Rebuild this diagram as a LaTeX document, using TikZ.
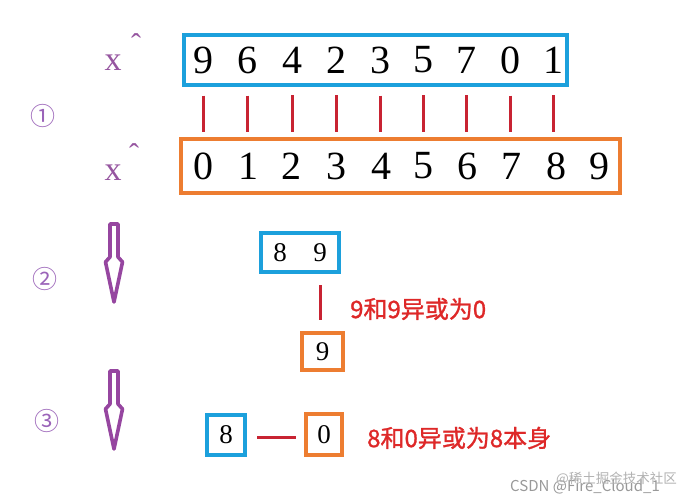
\documentclass[tikz,border=0pt]{standalone}
\usepackage{fontspec}
\newfontfamily\cjk{Noto Sans CJK SC}
\newfontfamily\cjkb[FakeBold=1.2]{Noto Sans CJK SC}
\newfontfamily\tms{Liberation Serif}
\usetikzlibrary{calc}
\definecolor{boxblue}{RGB}{28,160,220}
\definecolor{boxorange}{RGB}{237,125,49}
\definecolor{linered}{RGB}{200,35,50}
\definecolor{textred}{RGB}{222,40,40}
\definecolor{xpurple}{RGB}{150,85,160}
\definecolor{circpurple}{RGB}{155,100,185}
\definecolor{arrowpurple}{RGB}{150,70,160}
\tikzset{
  bigdigit/.style={inner sep=0pt, font=\tms\fontsize{40}{40}\selectfont},
  middigit/.style={inner sep=0pt, font=\tms\fontsize{27}{27}\selectfont},
  bluebox/.style={draw=boxblue, line width=4pt, inner sep=0pt},
  orangebox/.style={draw=boxorange, line width=4pt, inner sep=0pt},
  redline/.style={draw=linered, line width=3pt},
  xlabel/.style={inner sep=0pt, text=xpurple, font=\tms\fontsize{34}{34}\selectfont},
  caretlabel/.style={inner sep=0pt, text=xpurple, font=\tms\fontsize{30}{30}\selectfont},
  circnum/.style={inner sep=0pt, text=circpurple, font=\cjk\fontsize{25}{25}\selectfont},
  redtext/.style={inner sep=0pt, anchor=west, text=textred, font=\cjkb\fontsize{24}{24}\selectfont},
  hollowarrow/.style={draw=arrowpurple, fill=white, line width=3.6pt, line join=round},
  watermark/.style={inner sep=0pt, text=black!40, font=\cjk\fontsize{15}{15}\selectfont}
}
\begin{document}
\begin{tikzpicture}[x=1pt,y=-1pt]
\useasboundingbox[fill=white] (0,0) rectangle (692,502);
% boxes
\node[bluebox, minimum width=383pt, minimum height=50pt] (tbox) at (375.5,60) {};
\node[orangebox, minimum width=439pt, minimum height=54pt] (bbox) at (400.5,166) {};
% top digits
\foreach \d/\xx [count=\i] in {9/203,6/247,4/292,2/336,3/380,5/423,7/466,0/510,1/553}
  \node[bigdigit] (t\i) at (\xx,60) {\d};
% bottom digits
\foreach \d/\xx in {0/203,1/248,2/291,3/336,4/381,5/423,6/467,7/511,8/556,9/599}
  \node[bigdigit] (b\d) at (\xx,166) {\d};
% red links
\foreach \i in {1,...,9}
  \draw[redline, shorten <=22pt, shorten >=20pt] (t\i.south) -- (t\i.south |- b0.north);
% x^ labels
\node[xlabel] (x1) at (113,63) {x};
\node[caretlabel] (c1) at (136,44) {ˆ};
\node[xlabel] (x2) at (113,173) {x};
\node[caretlabel] (c2) at (134,154) {ˆ};
% circled numbers
\node[circnum] (n1) at (43,116) {①};
\node[circnum] (n2) at (45,279) {②};
\node[circnum] (n3) at (47,421) {③};
% hollow arrows
\foreach \yy in {0,147}{
  \draw[hollowarrow] (110,224+\yy) -- (118,224+\yy) -- (118,257+\yy) -- (122.5,262+\yy)
     -- (114,302+\yy) -- (105.5,262+\yy) -- (110,257+\yy) -- cycle;
}
% step 2
\node[bluebox, minimum width=78pt, minimum height=39pt] (pbox) at (300,252.5) {};
\node[middigit] (p8) at (280,252.5) {8};
\node[middigit] (p9) at (320,252.5) {9};
\node[orangebox, minimum width=41pt, minimum height=37pt] (qbox) at (322.5,351.5) {};
\node[middigit] (q9) at (322.5,351.5) {9};
\draw[redline, shorten <=11pt, shorten >=11pt] (p9 |- pbox.south) -- (p9 |- qbox.north);
\node[redtext] (lab1) at (350,309) {9和9异或为0};
% step 3
\node[bluebox, minimum width=38pt, minimum height=40pt] (rbox) at (226,435) {};
\node[middigit] (r8) at (226,435) {8};
\node[orangebox, minimum width=36pt, minimum height=41pt] (sbox) at (324,434.5) {};
\node[middigit] (s0) at (324,434.5) {0};
\draw[redline, shorten <=10pt, shorten >=8pt] (rbox.east |- 0,437) -- (sbox.west |- 0,437);
\node[redtext] (lab2) at (367,438) {8和0异或为8本身};
% watermark
\node[watermark, anchor=west] (wm1) at (510,487) {CSDN @Fire\_Cloud\_1};
\node[watermark, anchor=west, text=black!30, font=\cjk\fontsize{13.5}{13.5}\selectfont] (wm2) at (556,479) {@稀土掘金技术社区};
\end{tikzpicture}
\end{document}
